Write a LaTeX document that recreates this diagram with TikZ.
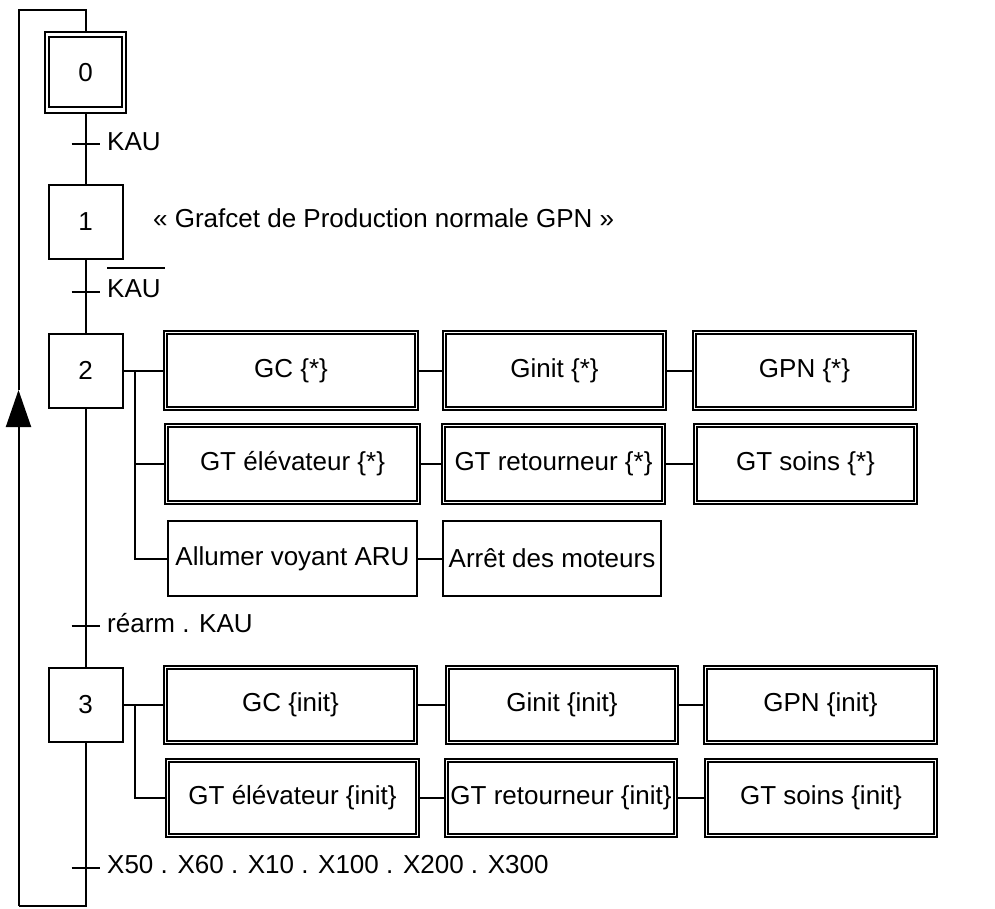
\documentclass[tikz,border=0pt]{standalone}
\usepackage{fontspec}
\setmainfont{Liberation Sans}
\usetikzlibrary{arrows.meta}
\tikzset{
    stepbox/.style={draw, line width=2pt, minimum width=74pt, minimum height=74pt, inner sep=0pt},
    macrobox/.style={draw, double, line width=1.6pt, double distance=1.5pt, inner sep=0pt},
    actbox/.style={draw, line width=2pt, inner sep=0pt},
    link/.style={line width=2pt},
    cond/.style={anchor=base west, inner sep=0pt}
}
\begin{document}
\begin{tikzpicture}[x=1pt, y=-1pt, font=\fontsize{26}{30}\selectfont]
    \useasboundingbox (0,0) rectangle (995,908);
    % steps
    \node[stepbox, minimum width=73pt, minimum height=70pt] (s0) at (85.5,72.3) {0};
    \node[draw, line width=2pt, minimum width=81pt, minimum height=80.5pt] (s0out) at (s0) {};
    \node[stepbox] (s1) at (85.5,222) {1};
    \node[stepbox] (s2) at (85.5,370.5) {2};
    \node[stepbox] (s3) at (85.5,705) {3};
    % transitions
    \coordinate (t0) at (85.5,144);
    \coordinate (t1) at (85.5,292);
    \coordinate (t2) at (85.5,626);
    \coordinate (t3) at (85.5,868);
    \draw[link] (s0out.south) -- (s1.north);
    \draw[link] (s1.south) -- (s2.north);
    \draw[link] (s2.south) -- (s3.north);
    \foreach \t in {t0,t1,t2,t3}
        \draw[link] ([xshift=-14pt]\t) -- ([xshift=14pt]\t);
    \node[cond] (c0) at (107,150) {KAU};
    \node[cond] (c1) at (107,297) {KAU};
    \draw[line width=1.5pt] ([yshift=11pt]c1.north west) -- ([yshift=11pt,xshift=4pt]c1.north east);
    \node[cond] (c2) at (107,632) {réarm . KAU};
    \node[cond] (c3) at (107,873) {X50 . X60 . X10 . X100 . X200 . X300};
    \node[cond] (gpn) at (153,227) {« Grafcet de Production normale GPN »};
    % loop back
    \coordinate (lb) at (85.5,906);
    \coordinate (ll) at (18.5,906);
    \coordinate (up) at (18.5,390);
    \coordinate (lt) at (18.5,10);
    \coordinate (tt) at (85.5,10);
    \draw[link] (s3.south) -- (lb) -- (ll);
    \draw[link, -{Triangle[length=37pt,width=25pt]}] (ll) -- (up);
    \draw[link] (up) -- (lt) -- (tt) -- (s0out.north);
    % actions of step 2
    \node[macrobox, minimum width=251pt, minimum height=76pt] (gc2) at (291,370.5) {GC \{*\}};
    \node[macrobox, minimum width=220pt, minimum height=76pt] (gi2) at (554.5,370.5) {Ginit \{*\}};
    \node[macrobox, minimum width=220pt, minimum height=76pt] (gp2) at (804.5,370.5) {GPN \{*\}};
    \node[macrobox, minimum width=252pt, minimum height=77pt] (ge2) at (292.5,464) {GT élévateur \{*\}};
    \node[macrobox, minimum width=220pt, minimum height=77pt] (gr2) at (553.5,464) {GT retourneur \{*\}};
    \node[macrobox, minimum width=220pt, minimum height=77pt] (gs2) at (805.5,464) {GT soins \{*\}};
    \node[actbox, minimum width=249pt, minimum height=75pt] (aru) at (292.5,558.5) {Allumer voyant ARU};
    \node[actbox, minimum width=218pt, minimum height=75pt] (stop) at (552,558.5) {Arrêt des moteurs};
    \coordinate (k2) at (135,370.5);
    \draw[link] (s2.east) -- (gc2.west);
    \draw[link] (k2) |- (ge2.west);
    \draw[link] (k2) |- (aru.west);
    \draw[link] (gc2) -- (gi2) -- (gp2);
    \draw[link] (ge2) -- (gr2) -- (gs2);
    \draw[link] (aru) -- (stop);
    % actions of step 3
    \node[macrobox, minimum width=250pt, minimum height=75pt] (gc3) at (290.5,705) {GC \{init\}};
    \node[macrobox, minimum width=229pt, minimum height=75pt] (gi3) at (562,705) {Ginit \{init\}};
    \node[macrobox, minimum width=230pt, minimum height=75pt] (gp3) at (820.5,705) {GPN \{init\}};
    \node[macrobox, minimum width=250pt, minimum height=75pt] (ge3) at (292.5,798) {GT élévateur \{init\}};
    \node[macrobox, minimum width=229pt, minimum height=75pt] (gr3) at (561,798) {GT retourneur \{init\}};
    \node[macrobox, minimum width=229pt, minimum height=75pt] (gs3) at (821,798) {GT soins \{init\}};
    \coordinate (k3) at (135,705);
    \draw[link] (s3.east) -- (gc3.west);
    \draw[link] (k3) |- (ge3.west);
    \draw[link] (gc3) -- (gi3) -- (gp3);
    \draw[link] (ge3) -- (gr3) -- (gs3);
\end{tikzpicture}
\end{document}
